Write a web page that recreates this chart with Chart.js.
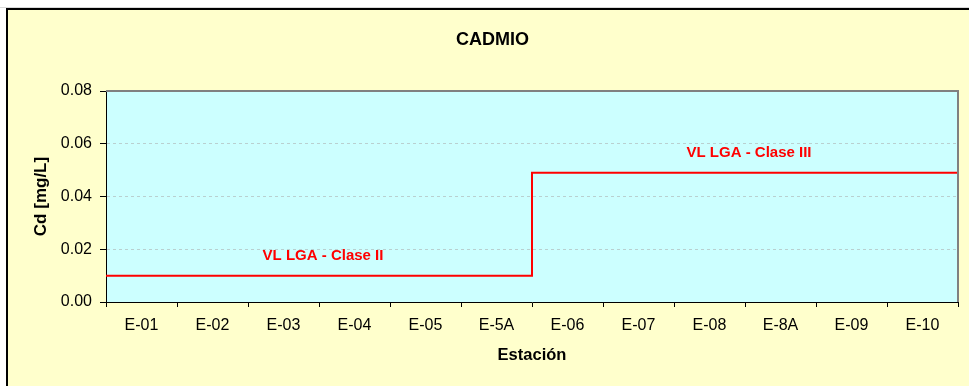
<!DOCTYPE html>
<html>
<head>
<meta charset="utf-8">
<script src="https://cdn.jsdelivr.net/npm/chart.js@4/dist/chart.umd.min.js"></script>
<style>
  html, body { margin: 0; padding: 0; background: #ffffff; }
  #wrap { position: relative; width: 969px; height: 386px; }
</style>
</head>
<body>
<div id="wrap"><canvas id="c" width="969" height="386"></canvas></div>
<script>
// ---- Data ----
const stations = ['E-01', 'E-02', 'E-03', 'E-04', 'E-05', 'E-5A', 'E-06', 'E-07', 'E-08', 'E-8A', 'E-09', 'E-10'];
const classNames = ['Clase II', 'Clase III'];
const classLimits = [0.01, 0.049];           // VL LGA (mg/L)
const stationClass = [0, 0, 0, 0, 0, 0, 1, 1, 1, 1, 1, 1];
const yTicks = [0, 0.02, 0.04, 0.06, 0.08];
const chartTitle = 'CADMIO';
const yTitle = 'Cd [mg/L]';
const xTitle = 'Estación';
const labelPrefix = 'VL LGA - ';

// Build step series: each station spans its category band (i-0.5 .. i+0.5)
const limitPoints = [];
stations.forEach((s, i) => {
  const v = classLimits[stationClass[i]];
  limitPoints.push({ x: i - 0.5, y: v });
  limitPoints.push({ x: i + 0.5, y: v });
});

const FONT = "'Liberation Sans', Arial, sans-serif";

const backgroundPlugin = {
  id: 'bg',
  beforeDraw(chart) {
    const { ctx, chartArea: a, width, height } = chart;
    ctx.save();
    ctx.fillStyle = '#ffffff';
    ctx.fillRect(0, 0, width, height);
    ctx.fillStyle = '#d9d9d9';
    ctx.fillRect(0, 7, width, 1);
    ctx.fillStyle = '#FFFFCC';
    ctx.fillRect(7, 9, width - 7, height - 9);
    ctx.strokeStyle = '#000000';
    ctx.lineWidth = 2;
    ctx.beginPath();
    ctx.moveTo(7, height + 2);
    ctx.lineTo(7, 9);
    ctx.lineTo(width + 2, 9);
    ctx.stroke();
    ctx.fillStyle = '#CCFFFF';
    ctx.fillRect(a.left, a.top, a.right - a.left, a.bottom - a.top);
    ctx.restore();
  }
};

const framePlugin = {
  id: 'frame',
  afterDatasetsDraw(chart) {
    const { ctx, chartArea: a } = chart;
    ctx.save();
    ctx.strokeStyle = '#808080';
    ctx.lineWidth = 2;
    ctx.beginPath();
    ctx.moveTo(a.left, a.top);
    ctx.lineTo(a.right, a.top);
    ctx.lineTo(a.right, a.bottom);
    ctx.stroke();
    ctx.restore();
  },
  afterDraw(chart) {
    // limit labels, centred over each class segment
    const { ctx } = chart;
    const xs = chart.scales.x2, ys = chart.scales.y;
    ctx.save();
    ctx.font = 'bold 15px ' + FONT;
    ctx.fillStyle = '#FF0000';
    ctx.textAlign = 'center';
    ctx.textBaseline = 'middle';
    classNames.forEach((name, k) => {
      const idx = stationClass.map((c, i) => c === k ? i : -1).filter(i => i >= 0);
      if (!idx.length) return;
      const x0 = xs.getPixelForValue(idx[0] - 0.5);
      const x1 = xs.getPixelForValue(idx[idx.length - 1] + 0.5);
      const y = ys.getPixelForValue(classLimits[k]);
      ctx.fillText(labelPrefix + name, (x0 + x1) / 2 + 4, y - 20);
    });
    ctx.restore();
  }
};

new Chart(document.getElementById('c'), {
  type: 'line',
  data: {
    labels: stations,
    datasets: [{
      label: 'VL LGA',
      data: limitPoints,
      xAxisID: 'x2',
      yAxisID: 'y',
      borderColor: '#FF0000',
      borderWidth: 2,
      pointRadius: 0,
      tension: 0,
      fill: false
    }]
  },
  options: {
    responsive: false,
    animation: false,
    events: [],
    layout: { padding: { left: 27, right: 11, top: 0, bottom: 16 } },
    plugins: {
      legend: { display: false },
      tooltip: { enabled: false },
      title: {
        display: true,
        text: chartTitle,
        color: '#000',
        font: { family: FONT, size: 18, weight: 'bold', lineHeight: 1.2 },
        padding: { top: 29, bottom: 40.4 }
      }
    },
    scales: {
      x: {
        type: 'category',
        offset: true,
        grid: {
          display: true,
          offset: true,
          drawOnChartArea: false,
          drawTicks: true,
          tickLength: 5,
          tickColor: '#000',
          tickWidth: 1
        },
        border: { display: true, color: '#000', width: 1 },
        ticks: {
          color: '#000',
          font: { family: FONT, size: 16 },
          padding: 9,
          maxRotation: 0,
          autoSkip: false
        },
        title: {
          display: true,
          text: xTitle,
          color: '#000',
          font: { family: FONT, size: 16.5, weight: 'bold', lineHeight: 1.2 },
          padding: { top: 0, bottom: 5 }
        },
        afterFit(scale) { scale.height = 68; }
      },
      x2: {
        type: 'linear',
        display: false,
        min: -0.5,
        max: stations.length - 0.5
      },
      y: {
        type: 'linear',
        min: yTicks[0],
        max: yTicks[yTicks.length - 1],
        afterBuildTicks(scale) { scale.ticks = yTicks.map(v => ({ value: v })); },
        grid: {
          display: true,
          drawOnChartArea: true,
          color: (ctx) => (ctx.index === 0 || ctx.index === yTicks.length - 1) ? 'rgba(0,0,0,0)' : 'rgba(170,170,170,0.55)',
          lineWidth: 1,
          drawTicks: true,
          tickLength: 6,
          tickColor: '#000',
          tickWidth: 1
        },
        border: { display: true, color: '#000', width: 1, dash: [3, 3] },
        ticks: {
          color: '#000',
          font: { family: FONT, size: 16 },
          padding: 8,
          callback: (v) => Number(v).toFixed(2)
        },
        title: {
          display: true,
          text: yTitle,
          color: '#000',
          font: { family: FONT, size: 17, weight: 'bold', lineHeight: 1.2 },
          padding: { top: 4, bottom: 0 }
        },
        afterFit(scale) { scale.width = 79; }
      }
    }
  },
  plugins: [backgroundPlugin, framePlugin]
});
</script>
</body>
</html>
